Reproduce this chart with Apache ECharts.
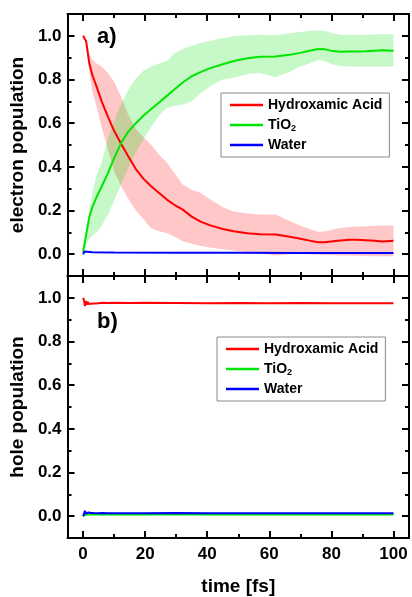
<!DOCTYPE html>
<html>
<head>
<meta charset="utf-8">
<script src="https://cdn.jsdelivr.net/npm/echarts@6/dist/echarts.min.js"></script>
<style>
html,body{margin:0;padding:0;background:#fff;}
#chart{width:412px;height:597px;}
</style>
</head>
<body>
<div id="chart"></div>
<script>
// ---- data (panel a: electron population) ----
const timeA = [0,1,2,3,4.3,6,8,10,12.3,14.5,17,19.5,22,24.5,27,29.5,32,35,38,41,45,48.5,53,57,62,66.6,70,73,75.7,78,80.5,83,85.8,88,91,94,96.5,100];
const hydroxamicE = [1.0,0.975,0.875,0.82,0.77,0.70,0.63,0.565,0.505,0.45,0.39,0.345,0.31,0.28,0.25,0.225,0.205,0.172,0.148,0.132,0.115,0.105,0.096,0.091,0.09,0.08,0.071,0.062,0.055,0.055,0.059,0.063,0.066,0.066,0.064,0.061,0.058,0.061];
const hydroxamicEUpper = [1.0,0.98,0.915,0.89,0.875,0.86,0.83,0.79,0.72,0.64,0.575,0.535,0.5,0.455,0.42,0.37,0.32,0.295,0.28,0.25,0.215,0.195,0.186,0.182,0.182,0.152,0.13,0.115,0.103,0.104,0.113,0.12,0.124,0.127,0.128,0.13,0.131,0.131];
const hydroxamicELower = [1.0,0.96,0.84,0.74,0.68,0.58,0.48,0.38,0.31,0.255,0.2,0.16,0.118,0.105,0.097,0.08,0.06,0.048,0.037,0.03,0.022,0.017,0.01,0.003,-0.006,0.0,0.003,0.0,-0.003,-0.004,-0.005,-0.006,-0.006,-0.007,-0.008,-0.009,-0.01,-0.01];
const tio2E = [0.01,0.09,0.17,0.215,0.26,0.31,0.37,0.44,0.51,0.56,0.6,0.635,0.665,0.695,0.725,0.755,0.785,0.815,0.835,0.852,0.87,0.885,0.897,0.904,0.905,0.913,0.922,0.932,0.94,0.938,0.93,0.927,0.928,0.928,0.929,0.932,0.934,0.932];
const tio2EUpper = [0.01,0.1,0.2,0.28,0.36,0.42,0.53,0.61,0.69,0.75,0.805,0.84,0.86,0.873,0.885,0.92,0.94,0.955,0.967,0.976,0.99,0.998,1.003,1.005,1.003,1.012,1.018,1.022,1.025,1.022,1.012,1.005,1.005,1.005,1.005,1.006,1.007,1.007];
const tio2ELower = [0.01,0.04,0.07,0.085,0.1,0.13,0.18,0.245,0.32,0.395,0.465,0.53,0.585,0.635,0.67,0.68,0.685,0.7,0.738,0.77,0.8,0.808,0.825,0.83,0.81,0.835,0.86,0.875,0.89,0.882,0.867,0.862,0.86,0.86,0.86,0.86,0.86,0.86];
const waterTimeA = [0,0.5,1,3,10,30,50,70,100];
const waterE = [0.0,0.012,0.01,0.009,0.008,0.007,0.006,0.005,0.005];

// ---- data (panel b: hole population) ----
const timeB = [0,0.3,0.6,0.9,1.2,1.5,1.8,2.2,2.6,3.0,3.5,4,5,6,8,10,15,20,30,40,50,60,70,80,90,100];
const hydroxamicH = [1.0,0.99,0.962,0.985,0.968,0.982,0.972,0.98,0.973,0.978,0.974,0.977,0.975,0.977,0.976,0.977,0.976,0.977,0.976,0.975,0.976,0.975,0.976,0.975,0.975,0.975];
const tio2H = [0.0,0.004,0.008,0.007,0.008,0.007,0.008,0.007,0.008,0.008,0.008,0.008,0.008,0.008,0.008,0.008,0.008,0.008,0.008,0.008,0.008,0.008,0.008,0.008,0.008,0.008];
const waterH = [0.0,0.01,0.025,0.012,0.02,0.01,0.017,0.011,0.015,0.012,0.014,0.013,0.013,0.014,0.013,0.013,0.013,0.013,0.014,0.013,0.013,0.013,0.013,0.013,0.013,0.013];

// ---- ticks ----
const xMajor = [0,20,40,60,80,100];
const xMinor = [10,30,50,70,90];
const yMajor = [0,0.2,0.4,0.6,0.8,1.0];
const yMinor = [0.1,0.3,0.5,0.7,0.9];
const seriesNames = ['Hydroxamic Acid','TiO2','Water'];

const FONT = "'Liberation Sans', Arial, Helvetica, sans-serif";
const pairs = (xs, ys) => xs.map((x, i) => [x, ys[i]]);

function xAxesFor(g, withLabels) {
  const base = {type:'value', gridIndex:g, min:-5, max:105, splitLine:{show:false}};
  const mk = (pos, vals, len, line, labels) => Object.assign({}, base, {
    position: pos,
    axisLine: {show: line, onZero:false, lineStyle:{color:'#000', width:2}},
    axisTick: {show:true, inside:true, length:len, customValues: vals, lineStyle:{color:'#000', width:2}},
    axisLabel: labels ? {show:true, customValues: xMajor, margin:8, color:'#000', fontSize:17, fontWeight:'bold', fontFamily:FONT, formatter: v => String(Math.round(v))} : {show:false}
  });
  const axes = [
    mk('bottom', xMajor, 7, true, withLabels),
    mk('bottom', xMinor, 4, false, false),
    mk('top', xMajor, 7, true, false),
    mk('top', xMinor, 4, false, false)
  ];
  if (withLabels) {
    Object.assign(axes[0], {name:'time [fs]', nameLocation:'middle', nameGap:39,
      nameTextStyle:{color:'#000', fontSize:19, fontWeight:'bold', fontFamily:FONT}});
  }
  return axes;
}
function yAxesFor(g, title) {
  const base = {type:'value', gridIndex:g, min:-0.1, max:1.1, splitLine:{show:false}};
  const mk = (pos, vals, len, line, labels) => Object.assign({}, base, {
    position: pos,
    axisLine: {show: line, onZero:false, lineStyle:{color:'#000', width:2}},
    axisTick: {show:true, inside:true, length:len, customValues: vals, lineStyle:{color:'#000', width:2}},
    axisLabel: labels ? {show:true, customValues: yMajor, margin:6, color:'#000', fontSize:17, fontWeight:'bold', fontFamily:FONT, formatter: v => v.toFixed(1)} : {show:false}
  });
  const axes = [
    mk('left', yMajor, 7, true, true),
    mk('left', yMinor, 4, false, false),
    mk('right', yMajor, 7, true, false),
    mk('right', yMinor, 4, false, false)
  ];
  Object.assign(axes[0], {name:title, nameLocation:'middle', nameGap:31,
    nameTextStyle:{color:'#000', fontSize:19, fontWeight:'bold', fontFamily:FONT}});
  return axes;
}

function band(xi, xs, upper, lower, color) {
  return {
    type:'custom', xAxisIndex:xi, yAxisIndex:xi, silent:true,
    data:[[xs[0], upper[0]]],
    renderItem: function (params, api) {
      const pts = [];
      for (let i = 0; i < xs.length; i++) pts.push(api.coord([xs[i], upper[i]]));
      for (let i = xs.length - 1; i >= 0; i--) pts.push(api.coord([xs[i], lower[i]]));
      return {type:'polygon', shape:{points:pts}, style:{fill:color}};
    }
  };
}
function line(xi, name, xs, ys, color) {
  return {type:'line', name:name, xAxisIndex:xi, yAxisIndex:xi, data:pairs(xs, ys),
    symbol:'none', showSymbol:false, smooth:false, color:color,
    lineStyle:{color:color, width:2}, emphasis:{disabled:true}, animation:false};
}

const legendBase = {
  orient:'vertical', icon:'rect', itemWidth:33, itemHeight:2.5, itemGap:4,
  padding:[4,7,4,9], backgroundColor:'#fff', borderColor:'#8a8a8a', borderWidth:1, borderRadius:0,
  data: seriesNames,
  formatter: n => n === 'TiO2' ? 'TiO{sub|2}' : n,
  textStyle:{color:'#000', fontSize:14, fontWeight:'bold', fontFamily:FONT, lineHeight:16,
    rich:{sub:{fontSize:9, fontWeight:'bold', fontFamily:FONT, color:'#000', verticalAlign:'bottom', lineHeight:16}}},
  selectedMode:false
};

const option = {
  animation:false,
  backgroundColor:'#fff',
  grid:[
    {left:66, right:3, top:14, height:262},
    {left:66, right:3, top:276, height:263}
  ],
  xAxis: xAxesFor(0, false).concat(xAxesFor(1, true)),
  yAxis: yAxesFor(0, 'electron population').concat(yAxesFor(1, 'hole population')),
  legend:[
    Object.assign({}, legendBase, {left:221, top:93}),
    Object.assign({}, legendBase, {left:217, top:337})
  ],
  graphic:[
    {type:'text', left:97, top:26, style:{text:'a)', font:"bold 22px " + FONT, fill:'#000'}},
    {type:'text', left:97, top:311, style:{text:'b)', font:"bold 22px " + FONT, fill:'#000'}}
  ],
  series:[
    band(0, timeA, hydroxamicEUpper, hydroxamicELower, 'rgba(255,0,0,0.22)'),
    line(0, 'Hydroxamic Acid', timeA, hydroxamicE, '#ff0000'),
    band(0, timeA, tio2EUpper, tio2ELower, 'rgba(0,225,0,0.22)'),
    line(0, 'TiO2', timeA, tio2E, '#00e600'),
    line(0, 'Water', waterTimeA, waterE, '#0000ff'),
    line(4, 'Hydroxamic Acid', timeB, hydroxamicH, '#ff0000'),
    line(4, 'TiO2', timeB, tio2H, '#00e600'),
    line(4, 'Water', timeB, waterH, '#0000ff')
  ]
};
const chart = echarts.init(document.getElementById('chart'), null, {renderer:'canvas'});
chart.setOption(option);
</script>
</body>
</html>
